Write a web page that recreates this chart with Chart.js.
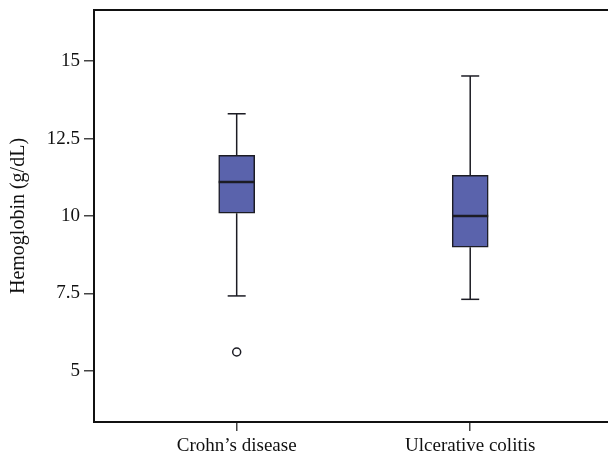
<!DOCTYPE html>
<html>
<head>
<meta charset="utf-8">
<script src="https://cdn.jsdelivr.net/npm/chart.js@4"></script>
<style>
  body { margin: 0; background: #fff; }
  #wrap { width: 608px; height: 462px; }
</style>
</head>
<body>
<div id="wrap"><canvas id="myChart" width="608" height="462"></canvas></div>
<script>
// groups and box plot stats
let groups = ["Crohn\u2019s disease", "Ulcerative colitis"];
let groupPos = [1, 2];
let mins = [7.42, 7.31];
let q1s = [10.09, 8.99];
let medians = [11.1, 10.0];
let q3s = [11.96, 11.31];
let maxs = [13.3, 14.52];
let outliers = [[5.61], []];
let yTicks = [5, 7.5, 10, 12.5, 15];

let boxColor = "#5a63ac";
let lineColor = "#1c1c24";
let serif = "'Liberation Serif', 'Times New Roman', serif";

// whiskers as one line with gaps
let whiskerPts = [];
groupPos.forEach((x, i) => {
  whiskerPts.push({x: x, y: q3s[i]}, {x: x, y: maxs[i]}, {x: x, y: null});
  whiskerPts.push({x: x, y: mins[i]}, {x: x, y: q1s[i]}, {x: x, y: null});
});

let capPts = [];
groupPos.forEach((x, i) => {
  capPts.push({x: x, y: maxs[i]}, {x: x, y: mins[i]});
});

let outlierPts = [];
groupPos.forEach((x, i) => {
  outliers[i].forEach(v => outlierPts.push({x: x, y: v}));
});

// frame on top of the plot area
let framePlugin = {
  id: 'frame',
  afterDraw(chart) {
    let a = chart.chartArea, ctx = chart.ctx;
    ctx.save();
    ctx.strokeStyle = '#111';
    ctx.lineWidth = 2;
    ctx.beginPath();
    ctx.moveTo(a.left, a.bottom);
    ctx.lineTo(a.left, a.top);
    ctx.lineTo(chart.width + 2, a.top);
    ctx.stroke();
    ctx.restore();
  }
};

new Chart(document.getElementById("myChart"), {
  type: 'bar',
  data: {
    datasets: [
      {
        type: 'line',
        data: whiskerPts,
        borderColor: lineColor,
        borderWidth: 1.5,
        pointRadius: 0,
        spanGaps: false,
        order: 3
      },
      {
        type: 'bar',
        data: groupPos.map((x, i) => ({x: x, y: [q1s[i], q3s[i]]})),
        backgroundColor: boxColor,
        borderColor: lineColor,
        borderWidth: 1.5,
        borderSkipped: false,
        barThickness: 36,
        order: 2
      },
      {
        type: 'scatter',
        data: groupPos.map((x, i) => ({x: x, y: medians[i]})),
        pointStyle: 'line',
        pointRadius: 18,
        borderColor: lineColor,
        borderWidth: 2.5,
        order: 1
      },
      {
        type: 'scatter',
        data: capPts,
        pointStyle: 'line',
        pointRadius: 9,
        borderColor: lineColor,
        borderWidth: 1.5,
        order: 1
      },
      {
        type: 'scatter',
        data: outlierPts,
        pointStyle: 'circle',
        pointRadius: 4,
        backgroundColor: '#fff',
        borderColor: lineColor,
        borderWidth: 1.5,
        order: 1
      }
    ]
  },
  options: {
    responsive: false,
    animation: false,
    events: [],
    layout: { padding: 0, autoPadding: false },
    plugins: { legend: { display: false }, tooltip: { enabled: false } },
    scales: {
      x: {
        type: 'linear',
        offset: false,
        min: 0.389,
        max: 2.59,
        afterBuildTicks: (s) => { s.ticks = groupPos.map(v => ({value: v})); },
        afterFit: (s) => { s.height = 40; s.paddingLeft = 0; s.paddingRight = 0; },
        ticks: {
          callback: (v) => groups[groupPos.indexOf(v)],
          font: { family: serif, size: 19 },
          color: '#111',
          padding: 4,
          maxRotation: 0,
          autoSkip: false
        },
        grid: { offset: false, drawOnChartArea: false, drawTicks: true, tickLength: 9, color: '#444', lineWidth: 1.5 },
        border: { color: '#111', width: 2 }
      },
      y: {
        min: 3.35,
        max: 16.65,
        afterBuildTicks: (s) => { s.ticks = yTicks.map(v => ({value: v})); },
        afterFit: (s) => { s.width = 94; s.paddingTop = 10; s.paddingBottom = 0; },
        ticks: {
          callback: (v) => String(v),
          font: { family: serif, size: 19 },
          color: '#111',
          padding: 4
        },
        grid: { drawOnChartArea: false, drawTicks: true, tickLength: 10, color: '#444', lineWidth: 1.5 },
        border: { color: '#111', width: 2 },
        title: {
          display: true,
          text: 'Hemoglobin (g/dL)',
          font: { family: serif, size: 20 },
          color: '#111',
          padding: { top: 7, bottom: 0 }
        }
      }
    }
  },
  plugins: [framePlugin]
});
</script>
</body>
</html>
